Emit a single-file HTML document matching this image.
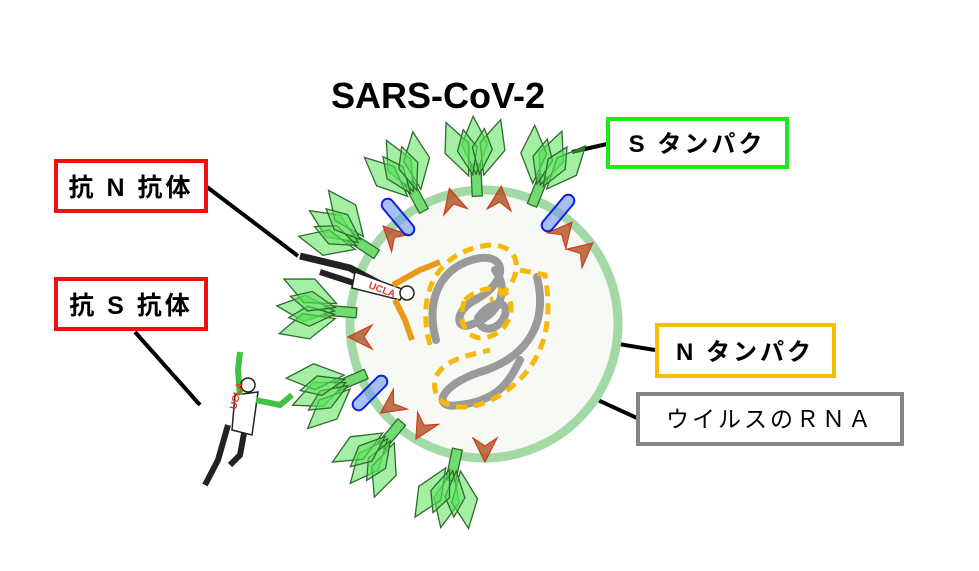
<!DOCTYPE html>
<html><head><meta charset="utf-8"><style>
body{margin:0;background:#fff;width:979px;height:571px;overflow:hidden;}
svg{display:block}
text{font-family:"Liberation Sans","Noto Sans CJK JP",sans-serif;}
</style></head><body>
<svg width="979" height="571" viewBox="0 0 979 571">
<defs>
<g id="spike">
 <rect x="-5" y="-32" width="10" height="32" fill="#6fdc6f" stroke="#2f6b2f" stroke-width="1.3"/>
 <g fill="rgba(90,225,90,0.55)" stroke="#2f6b2f" stroke-width="1.3">
  <polygon points="0,-22 -13,-52 0,-80 13,-52"/>
  <polygon points="0,-22 -13,-52 0,-80 13,-52" transform="rotate(-20)"/>
  <polygon points="0,-22 -13,-52 0,-80 13,-52" transform="rotate(20)"/>
  <polygon points="0,-22 -10,-48 0,-68 10,-48" transform="rotate(-9)"/>
  <polygon points="0,-22 -10,-48 0,-68 10,-48" transform="rotate(9)"/>
 </g>
</g>
<g id="chev"><polygon points="-12,10 0,-14 12,10 0,2" fill="rgba(175,90,45,0.85)" stroke="#d23a20" stroke-width="1.2"/></g>
<g id="cyl"><rect x="-6" y="-22" width="12" height="44" rx="6" fill="rgba(110,150,240,0.6)" stroke="#1020e0" stroke-width="2"/></g>
</defs>

<text x="438" y="108" font-size="36" font-weight="bold" text-anchor="middle">SARS-CoV-2</text>

<g stroke="#000" stroke-width="4" fill="none">
<line x1="572" y1="152" x2="607" y2="144"/>
<line x1="207" y1="187" x2="298" y2="256"/>
<line x1="135" y1="332" x2="200" y2="405"/>
<line x1="545" y1="332" x2="655" y2="350"/>
<line x1="515" y1="362" x2="637" y2="418"/>
</g>

<circle cx="484" cy="324" r="134" fill="#f7faf4" stroke="#a3d9a5" stroke-width="9"/>

<g>
<use href="#spike" transform="translate(484,324) rotate(-3) translate(0,-128)"/>
<use href="#spike" transform="translate(484,324) rotate(22) translate(0,-128)"/>
<use href="#spike" transform="translate(484,324) rotate(-28) translate(0,-128)"/>
<use href="#spike" transform="translate(484,324) rotate(-57) translate(0,-128)"/>
<use href="#spike" transform="translate(484,324) rotate(-85) translate(0,-128)"/>
<use href="#spike" transform="translate(484,324) rotate(-113) translate(0,-128)"/>
<use href="#spike" transform="translate(484,324) rotate(-140) translate(0,-128)"/>
<use href="#spike" transform="translate(484,324) rotate(-168) translate(0,-128)"/>
</g>

<use href="#chev" transform="translate(453,202) rotate(-15)"/>
<use href="#chev" transform="translate(500,200) rotate(5)"/>
<use href="#chev" transform="translate(393,236) rotate(-45)"/>
<use href="#chev" transform="translate(563,233) rotate(40)"/>
<use href="#chev" transform="translate(582,252) rotate(50)"/>
<use href="#chev" transform="translate(362,337) rotate(-90)"/>
<use href="#chev" transform="translate(392,405) rotate(-125)"/>
<use href="#chev" transform="translate(423,427) rotate(-150)"/>
<use href="#chev" transform="translate(485,448) rotate(180)"/>

<use href="#cyl" transform="translate(398,217) rotate(-40)"/>
<use href="#cyl" transform="translate(558,213) rotate(40)"/>
<use href="#cyl" transform="translate(370,393) rotate(-135)"/>

<g fill="none" stroke="#9a9a9a" stroke-width="8" stroke-linecap="round">
<path d="M436,340 C425,300 440,265 480,258 C510,255 505,285 475,300 C455,310 455,330 470,325 C500,315 510,290 495,270"/>
<path d="M537,277 C550,330 520,360 480,372 C440,385 430,410 460,405 C500,400 510,380 520,360"/>
<path d="M478,318 C490,300 510,300 505,315 C500,330 480,335 478,318"/>
</g>
<g fill="none" stroke="#f6b80a" stroke-width="5" stroke-dasharray="11,7">
<path d="M430,345 C415,290 440,250 490,245 C530,245 520,290 490,300"/>
<path d="M520,270 L545,275 C555,330 540,370 500,395 C470,415 430,410 435,380 C440,360 470,355 490,350"/>
<path d="M465,300 C480,285 505,285 510,300 C515,320 500,338 480,338 C462,336 458,315 465,300"/>
</g>

<g stroke="#222" stroke-width="1.5">
<path d="M300,256 L350,268 L395,292" stroke="#222" stroke-width="7" fill="none"/>
<path d="M320,272 L360,285 L395,295" stroke="#222" stroke-width="6" fill="none"/>
<path d="M355,272 L405,290 L400,300 L352,288 Z" fill="#fff"/>
<path d="M393,285 L420,270 L440,262" stroke="#e89a1a" stroke-width="6" fill="none"/>
<path d="M395,300 L405,320 L412,340" stroke="#e89a1a" stroke-width="6" fill="none"/>
<circle cx="407" cy="293" r="7" fill="#fff"/>
</g>
<text x="368" y="288" font-size="10" fill="#e03a2a" font-weight="bold" transform="rotate(20 368 288)">UCLA</text>

<g stroke="#222" stroke-width="1.5">
<path d="M228,425 L218,460 L205,485" stroke="#222" stroke-width="6" fill="none"/>
<path d="M245,428 L240,455 L230,465" stroke="#222" stroke-width="6" fill="none"/>
<path d="M235,395 L258,392 L252,435 L232,430 Z" fill="#fff"/>
<path d="M240,395 L238,370 L240,352" stroke="#3ec43e" stroke-width="6" fill="none"/>
<path d="M256,400 L280,405 L292,395" stroke="#3ec43e" stroke-width="6" fill="none"/>
<circle cx="248" cy="385" r="7" fill="#fff"/>
</g>
<text x="236" y="410" font-size="10" fill="#e03a2a" font-weight="bold" transform="rotate(-75 236 410)">UCLA</text>

<rect x="608" y="119" width="179" height="48" fill="#fff" stroke="#1ee81e" stroke-width="4"/>
<text x="697" y="152" font-size="24" font-weight="bold" text-anchor="middle" letter-spacing="3">S タンパク</text>
<rect x="56" y="161" width="150" height="50" fill="#fff" stroke="#f01010" stroke-width="4"/>
<text x="131" y="196" font-size="25" font-weight="bold" text-anchor="middle" letter-spacing="3">抗 N 抗体</text>
<rect x="56" y="279" width="150" height="50" fill="#fff" stroke="#f01010" stroke-width="4"/>
<text x="131" y="314" font-size="25" font-weight="bold" text-anchor="middle" letter-spacing="3">抗 S 抗体</text>
<rect x="657" y="325" width="177" height="51" fill="#fff" stroke="#f5c000" stroke-width="4"/>
<text x="745" y="360" font-size="24" font-weight="bold" text-anchor="middle" letter-spacing="3">N タンパク</text>
<rect x="638" y="394" width="264" height="50" fill="#fff" stroke="#858585" stroke-width="4"/>
<text x="770" y="427" font-size="23" text-anchor="middle" letter-spacing="3">ウイルスのＲＮＡ</text>
</svg>
</body></html>
